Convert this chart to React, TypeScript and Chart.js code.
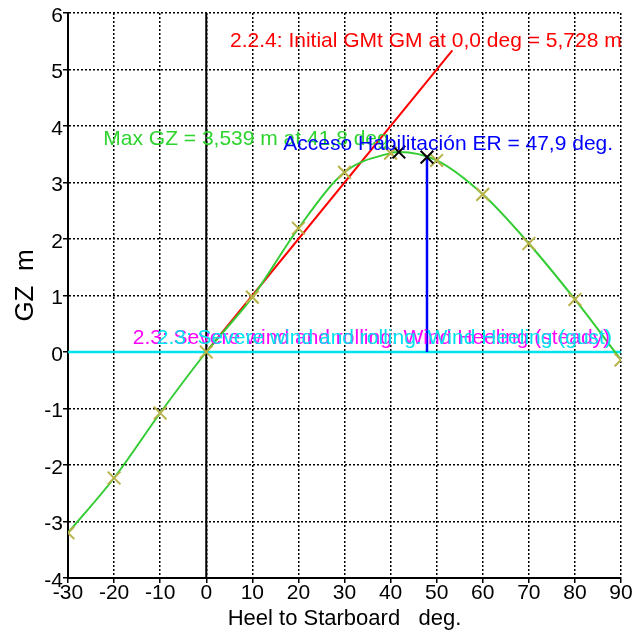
import React, { useEffect, useRef } from 'react';
import { Chart, registerables } from 'chart.js';

Chart.register(...registerables);

// ---- data ----
const heelRange = [-30, 90];
const gzRange = [-4, 6];
const heelStep = 10;
const gzStep = 1;

// GZ curve (knots + maximum)
const curveDeg = [-30, -20, -10, 0, 10, 20, 30, 40, 41.8, 50, 60, 70, 80, 90];
const curveGz = [-3.2, -2.23, -1.08, 0, 0.97, 2.19, 3.18, 3.52, 3.539, 3.39, 2.79, 1.92, 0.93, -0.14];

// computed-point markers
const markerDeg = [-30, -20, -10, 0, 10, 20, 30, 40, 50, 60, 70, 80, 90];
const markerGz = [-3.2, -2.23, -1.08, 0, 0.97, 2.19, 3.18, 3.52, 3.39, 2.79, 1.92, 0.93, -0.14];

// special points: max GZ and down-flooding angle
const specialDeg = [41.8, 47.9];
const specialGz = [3.539, 3.45];

// initial GM line
const gmDeg = [0, 53.4];
const gmGz = [0, 5.34];

// heeling arms (steady, gust)
const heelArmDeg = [-30, 90];
const steadyArm = [0, 0];
const gustArm = [0, 0];

const FONT = '"Liberation Sans", Arial, sans-serif';

const annotations = [
  { text: '2.2.4: Initial GMt GM at 0,0 deg = 5,728 m', x: 5.16, y: 5.4, color: '#ff0000' },
  { text: 'Max GZ = 3,539 m at 41,8 deg', x: -22.34, y: 3.66, color: '#2ed42e' },
  { text: 'Acceso Habilitación ER = 47,9 deg.', x: 16.72, y: 3.575, color: '#0000ff' },
  { text: '2.3: Severe wind and rolling: Wind Heeling (steady)', x: -15.96, y: 0.14, color: '#ff00ff' },
  { text: '2.3: Severe wind and rolling: Wind Heeling (gust)', x: -10.75, y: 0.14, color: '#00e3ee' },
];

const yTitle = 'GZ  m';
const xTitle = 'Heel to Starboard   deg.';

const pts = (xs: number[], ys: number[]) => xs.map((x, i) => ({ x, y: ys[i] }));

const textPlugin = {
  id: 'textAnnotations',
  afterDatasetsDraw(chart: any) {
    const { ctx, scales } = chart;
    const xs = scales.x;
    const ys = scales.y;
    ctx.save();
    ctx.font = `21px ${FONT}`;
    ctx.textAlign = 'left';
    ctx.textBaseline = 'alphabetic';
    for (const a of annotations) {
      ctx.fillStyle = a.color;
      ctx.fillText(a.text, xs.getPixelForValue(a.x), ys.getPixelForValue(a.y));
    }
    ctx.restore();
  },
  afterDraw(chart: any) {
    const { ctx, chartArea } = chart;
    ctx.save();
    ctx.font = `26px ${FONT}`;
    ctx.fillStyle = '#000';
    ctx.textAlign = 'center';
    ctx.textBaseline = 'alphabetic';
    ctx.translate(33, (chartArea.top + chartArea.bottom) / 2 - 10);
    ctx.rotate(-Math.PI / 2);
    ctx.fillText(yTitle, 0, 0);
    ctx.restore();
  },
};

export default function App() {
  const ref = useRef<HTMLCanvasElement>(null);

  useEffect(() => {
    if (!ref.current) return;
    const gridCommon = {
      color: '#000',
      lineWidth: 1.5,
      tickLength: 5,
      tickColor: '#000',
      tickWidth: 1.5,
      tickBorderDash: [],
    };
    const chart = new Chart(ref.current, {
      type: 'scatter',
      data: {
        datasets: [
          {
            label: 'GZ markers',
            data: pts(markerDeg, markerGz),
            showLine: false,
            pointStyle: 'crossRot',
            pointRadius: 9,
            pointBorderWidth: 2,
            pointBorderColor: '#b8b248',
            pointBackgroundColor: '#b8b248',
            order: 1,
          },
          {
            label: 'special',
            data: pts(specialDeg, specialGz),
            showLine: false,
            pointStyle: 'crossRot',
            pointRadius: 9,
            pointBorderWidth: 2,
            pointBorderColor: '#000',
            order: 0,
          },
          {
            label: 'GZ',
            data: pts(curveDeg, curveGz),
            showLine: true,
            borderColor: '#33cc33',
            borderWidth: 2,
            pointRadius: 0,
            cubicInterpolationMode: 'monotone',
            order: 3,
          },
          {
            label: 'GM',
            data: pts(gmDeg, gmGz),
            showLine: true,
            borderColor: '#ff0000',
            borderWidth: 2,
            pointRadius: 0,
            order: 4,
          },
          {
            label: 'ER',
            data: [{ x: specialDeg[1], y: 0 }, { x: specialDeg[1], y: specialGz[1] }],
            showLine: true,
            borderColor: '#0000ff',
            borderWidth: 2.5,
            pointRadius: 0,
            order: 5,
          },
          {
            label: 'gust',
            data: pts(heelArmDeg, gustArm),
            showLine: true,
            borderColor: '#00e3ee',
            borderWidth: 2.5,
            pointRadius: 0,
            order: 6,
          },
          {
            label: 'steady',
            data: pts(heelArmDeg, steadyArm),
            showLine: true,
            borderColor: '#ff00ff',
            borderWidth: 2,
            pointRadius: 0,
            order: 7,
          },
          {
            label: 'zero heel',
            data: [{ x: 0, y: gzRange[0] }, { x: 0, y: gzRange[1] }],
            showLine: true,
            borderColor: '#000',
            borderWidth: 2,
            pointRadius: 0,
            order: 8,
          },
        ],
      },
      options: {
        responsive: false,
        devicePixelRatio: 1,
        animation: false,
        events: [],
        layout: { padding: { top: 13, right: 15, left: 0, bottom: 0 } },
        plugins: { legend: { display: false }, tooltip: { enabled: false } },
        scales: {
          x: {
            type: 'linear',
            min: heelRange[0],
            max: heelRange[1],
            ticks: {
              stepSize: heelStep,
              color: '#000',
              font: { family: FONT, size: 21 },
              padding: -2,
              maxRotation: 0,
              autoSkip: false,
            },
            grid: gridCommon,
            border: { display: true, color: '#000', width: 2, dash: [2, 2] },
            title: {
              display: true,
              text: xTitle,
              color: '#000',
              font: { family: FONT, size: 22 },
              padding: { top: 0, bottom: 2 },
            },
            afterFit(s: any) {
              s.height = 56;
            },
          },
          y: {
            type: 'linear',
            min: gzRange[0],
            max: gzRange[1],
            ticks: {
              stepSize: gzStep,
              color: '#000',
              font: { family: FONT, size: 21 },
              padding: 0,
              labelOffset: 3,
            },
            grid: gridCommon,
            border: { display: true, color: '#000', width: 2, dash: [2, 2] },
            afterFit(s: any) {
              s.width = 68;
            },
          },
        },
      } as any,
      plugins: [textPlugin],
    });
    return () => chart.destroy();
  }, []);

  return (
    <div style={{ position: 'absolute', left: 0, top: 0, width: 636, height: 634, background: '#fff' }}>
      <canvas ref={ref} width={636} height={634} />
    </div>
  );
}
